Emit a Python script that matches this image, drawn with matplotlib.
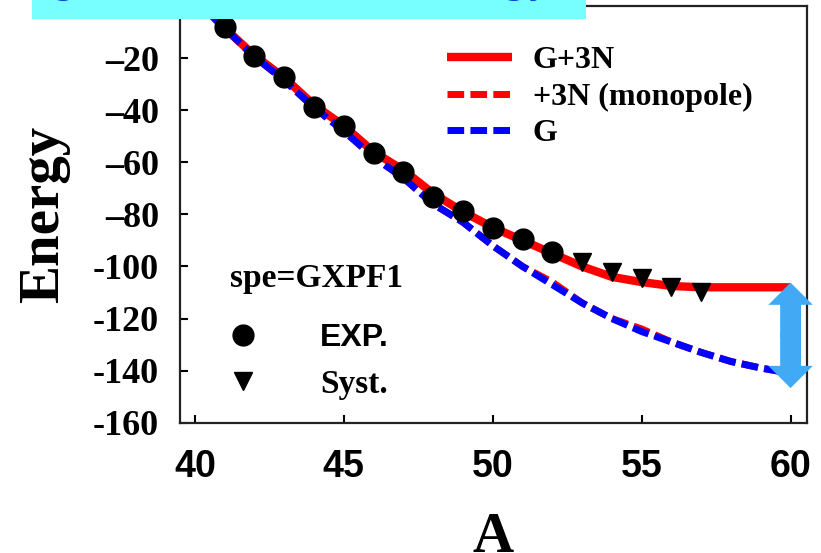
import matplotlib.pyplot as plt
from matplotlib.patches import Rectangle, FancyArrowPatch

# mass number and energies (MeV)
mass = list(range(40, 61))
e_g3n = [3, -8.5, -19, -27.5, -38, -46, -56, -63, -72, -79, -85,
         -90, -95, -100, -104, -106, -107.5, -108, -108, -108, -108]
e_mono = [3, -8.5, -19.5, -28.5, -39, -48, -58, -66, -76, -83, -92,
          -100, -106, -114, -120, -124, -129, -133, -136.5, -139, -141]
e_g = [3, -8.5, -19.5, -28.5, -39, -48, -58, -66, -76, -83, -92,
       -100, -107, -114, -120, -125, -129, -133, -136.5, -139, -141]

exp_a = [41, 42, 43, 44, 45, 46, 47, 48, 49, 50, 51, 52]
exp_e = [-8.1, -19.2, -27.3, -38.8, -46.1, -56.5, -63.7, -73.3, -78.7, -85.2, -89.5, -94.5]
syst_a = [53, 54, 55, 56, 57]
syst_e = [-98.3, -102.1, -104.5, -107.9, -109.8]

xticks = [40, 45, 50, 55, 60]
yticks = [0, -20, -40, -60, -80, -100, -120, -140, -160]
ytick_labels = ['0', '\u201320', '\u201340', '\u201360', '\u201380', '-100', '-120', '-140', '-160']

serif = 'Liberation Serif'
sans = 'Liberation Sans'

fig = plt.figure(figsize=(8.21, 5.53), dpi=100)
ax = fig.add_axes([0.2192, 0.2356, 0.7637, 0.7535])

l1, = ax.plot(mass, e_g3n, color='#ff0000', lw=6, solid_capstyle='butt',
              label='G+3N', zorder=2)
l2, = ax.plot(mass, e_mono, color='#ff0000', lw=5, dashes=(2.4, 0.9),
              label='+3N (monopole)', zorder=2.5)
l3, = ax.plot(mass, e_g, color='#0000ff', lw=5, dashes=(2.4, 0.9), label='G', zorder=3)
p_exp, = ax.plot(exp_a, exp_e, 'o', color='black', ms=15, label='EXP.', zorder=4)
p_syst, = ax.plot(syst_a, syst_e, 'v', color='black', ms=12.5, label='Syst.', zorder=4)

# double arrow marking the 3N gap at the last point
top = e_g3n[-1] + 1.8
bottom = e_g[-1] - 5.7
mid = (top + bottom) / 2
for start, end in ((mid - 1, top), (mid + 1, bottom)):
    ax.add_patch(FancyArrowPatch((mass[-1], start), (mass[-1], end),
                                 arrowstyle='simple,head_length=16,head_width=32,tail_width=15',
                                 mutation_scale=1, shrinkA=0, shrinkB=0,
                                 color='#42aaf5', lw=0, clip_on=False, zorder=5))

ax.set_xlim(39.5, 60.55)
ax.set_ylim(-160, 0)
ax.set_xticks(xticks)
ax.set_yticks(yticks)
ax.set_yticklabels(ytick_labels)
ax.tick_params(direction='in', length=6, width=1.5, top=False, right=False)
ax.tick_params(axis='x', pad=19)
ax.tick_params(axis='y', pad=15)
for lab in ax.get_xticklabels():
    lab.set_fontfamily(sans)
    lab.set_fontweight('bold')
    lab.set_fontsize(27)
for lab in ax.get_yticklabels():
    lab.set_fontfamily(serif)
    lab.set_fontweight('bold')
    lab.set_fontsize(26)
for sp in ax.spines.values():
    sp.set_linewidth(1.6)
    sp.set_color('#222222')

ax.set_xlabel('A', family=serif, weight='bold', fontsize=41)
ax.xaxis.label.set_va('baseline')
ax.xaxis.set_label_coords(0.5, -0.31)
ax.set_ylabel('Energy', family=serif, weight='bold', fontsize=41)
ax.yaxis.label.set_va('center')
ax.yaxis.set_label_coords(-0.217, 0.5)

leg1 = ax.legend(handles=[l1, l2, l3], loc='upper left', bbox_to_anchor=(0.4258, 0.904),
                 frameon=False, prop=dict(family=serif, weight='bold', size=23),
                 handlelength=2.05, handletextpad=0.63, labelspacing=0.22,
                 borderpad=0, borderaxespad=0)
ax.add_artist(leg1)

ax.text(0.0797, 0.347, 'spe=GXPF1', transform=ax.transAxes, family=serif,
        weight='bold', fontsize=24, ha='left', va='center')
leg2 = ax.legend(handles=[p_exp, p_syst], loc='upper left',
                 bbox_to_anchor=(0.0797, 0.239), frameon=False,
                 prop=dict(family=serif, weight='bold', size=24),
                 handlelength=0.8, handletextpad=1.9, labelspacing=0.47,
                 borderpad=0, borderaxespad=0, numpoints=1)
leg2.get_texts()[0].set_fontfamily(sans)
leg2.get_texts()[0].set_fontsize(23)

# banner across the top edge
fig.add_artist(Rectangle((32 / 821, 1 - 19 / 553), (586 - 32) / 821, 19 / 553,
                         transform=fig.transFigure, facecolor='#77ffff',
                         edgecolor='none', zorder=10))
fig.text(52 / 821, 1 + 7 / 553, 'ground-state total energy', color='#0a3cd2',
         fontsize=28, family='DejaVu Sans', va='baseline', ha='left', zorder=11)

fig.savefig('out.png', dpi=100)
